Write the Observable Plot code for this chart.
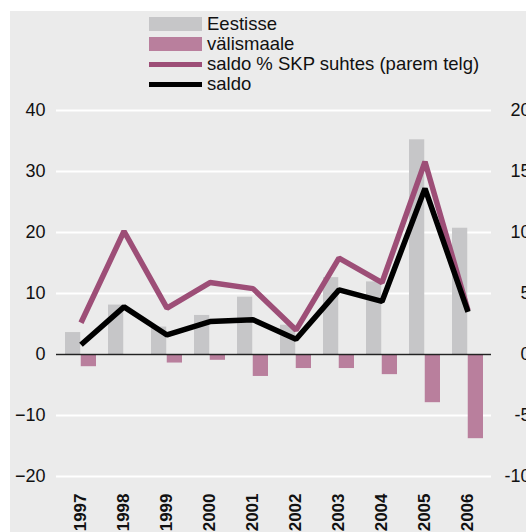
<!DOCTYPE html>
<html>
<head>
<meta charset="utf-8">
<script src="https://cdn.jsdelivr.net/npm/d3@7"></script>
<script src="https://cdn.jsdelivr.net/npm/@observablehq/plot@0.6"></script>
<style>
  html, body { margin: 0; padding: 0; overflow: hidden; background: white; }
  #wrap { position: relative; width: 526px; height: 532px; font-family: "Liberation Sans", Arial, sans-serif; }
  #bg { position: absolute; left: 10px; top: 11px; right: 0; bottom: 0; background: #ebebeb; }
  #chart { position: absolute; left: 0; top: 0; }
  #legend { position: absolute; left: 149px; top: 14px; font-size: 18.5px; color: #111; }
  .row { height: 20px; display: flex; align-items: center; white-space: nowrap; }
  .sw { width: 53px; margin-right: 5px; flex: none; }
</style>
</head>
<body>
<div id="wrap">
  <div id="bg"></div>
  <div id="chart"></div>
  <div id="legend"></div>
</div>
<script>
const years = ["1997","1998","1999","2000","2001","2002","2003","2004","2005","2006"];
const eestisse = [3.6, 8.1, 4.5, 6.4, 9.4, 4.8, 12.6, 11.9, 35.2, 20.7];
const valismaale = [-2.0, 0, -1.4, -0.95, -3.6, -2.3, -2.3, -3.3, -7.9, -13.8];
const saldo = [1.6, 7.8, 3.2, 5.4, 5.7, 2.5, 10.6, 8.7, 27.2, 7.0];
const saldoSKP = [2.6, 10.1, 3.8, 5.9, 5.4, 2.0, 7.9, 5.9, 15.8, 3.6];
const leftTicks = [-20, -10, 0, 10, 20, 30, 40];

const legendItems = [
  {label: "Eestisse", color: "#c6c6c8", h: 14},
  {label: "välismaale", color: "#b97f9d", h: 14},
  {label: "saldo % SKP suhtes (parem telg)", color: "#9d4e77", h: 5},
  {label: "saldo", color: "#000000", h: 5}
];

const data = years.map((y, i) => ({
  year: y, e: eestisse[i], v: valismaale[i], s: saldo[i], p: saldoSKP[i] * 2
}));

const COL_GRAY = "#c6c6c8", COL_PINK = "#b97f9d", COL_PURPLE = "#9d4e77";

const chart = Plot.plot({
  width: 526,
  height: 532,
  marginLeft: 56,
  marginRight: 35,
  marginTop: 110,
  marginBottom: 56,
  style: {background: "transparent", overflow: "visible", fontFamily: "Liberation Sans, Arial, sans-serif"},
  x: {type: "band", domain: years, padding: 0, axis: null},
  y: {domain: [-20, 40], axis: null},
  marks: [
    Plot.ruleY(leftTicks, {stroke: "white", strokeWidth: 2}),
    Plot.barY(data, {x: "year", y: "e", fill: COL_GRAY, insetLeft: 6, insetRight: 21.75}),
    Plot.barY(data, {x: "year", y: "v", fill: COL_PINK, insetLeft: 21.75, insetRight: 6}),
    Plot.ruleY([0], {stroke: "#222", strokeWidth: 1.3}),
    Plot.lineY(data, {x: "year", y: "p", stroke: COL_PURPLE, strokeWidth: 5.5, strokeLinejoin: "miter", strokeLinecap: "butt"}),
    Plot.lineY(data, {x: "year", y: "s", stroke: "#000", strokeWidth: 5.5, strokeLinejoin: "miter", strokeLinecap: "butt"}),
    Plot.axisY(leftTicks, {anchor: "left", tickSize: 0, tickPadding: 11, fontSize: 18, fill: "#111", label: null}),
    Plot.axisY(leftTicks, {anchor: "right", tickSize: 0, tickPadding: 39, textAnchor: "end", fontSize: 18, fill: "#111", label: null, tickFormat: d => String(d / 2)}),
    Plot.axisX({anchor: "bottom", tickSize: 0, tickPadding: 17, tickRotate: -90, fontSize: 17, fontWeight: "bold", fontFamily: "Liberation Sans Narrow, Liberation Sans, Arial, sans-serif", fill: "#111", label: null})
  ]
});
document.getElementById("chart").appendChild(chart);

const leg = document.getElementById("legend");
for (const it of legendItems) {
  const row = document.createElement("div");
  row.className = "row";
  const sw = document.createElement("div");
  sw.className = "sw";
  sw.style.height = it.h + "px";
  sw.style.background = it.color;
  const t = document.createElement("span");
  t.textContent = it.label;
  row.appendChild(sw);
  row.appendChild(t);
  leg.appendChild(row);
}
</script>
</body>
</html>
